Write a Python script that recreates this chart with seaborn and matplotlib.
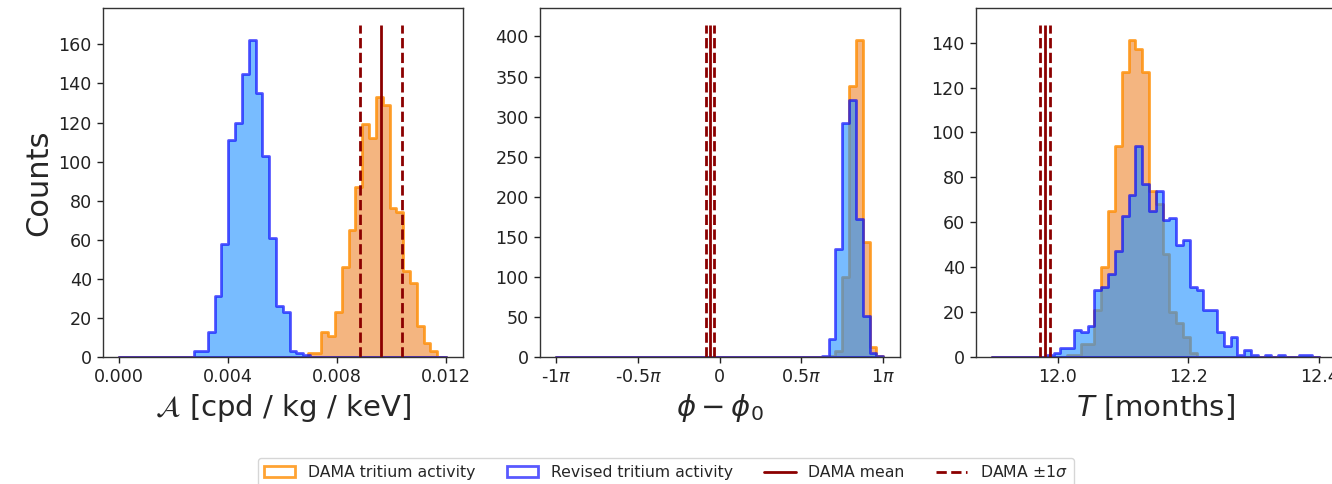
import numpy as np
import pandas as pd
import matplotlib
matplotlib.use("Agg")
import matplotlib.pyplot as plt
import seaborn as sns
from matplotlib.patches import Patch
from matplotlib.lines import Line2D

# ---------------------------------------------------------------------------
# Amplitude A [cpd/kg/keV]: counts per bin (bin width 0.00025)
amp_range = (0.0, 0.012)
amp_width = 0.00025
amp_dama_start = 0.00692
amp_dama_counts = [2, 2, 13, 11, 23, 46, 65, 87, 119, 112, 133, 129, 76, 74, 44, 38, 16, 7, 3]
amp_rev_start = 0.00275
amp_rev_counts = [3, 3, 13, 31, 58, 111, 120, 145, 162, 135, 103, 61, 26, 23, 3, 2, 1]
amp_dama_mean, amp_dama_sigma = 0.0096, 0.00077

# Phase phi - phi0 (units of pi): 48 bins over [-pi, pi]
phase_nbins = 48
phase_dama_first_bin = 40
phase_dama_counts = [1, 8, 100, 338, 395, 144, 13, 1]
phase_rev_first_bin = 39
phase_rev_counts = [1, 22, 135, 292, 321, 172, 51, 5, 1]
phase_dama_mean, phase_dama_sigma = -0.059, 0.0265

# Period T [months]: 48 bins over [11.9, 12.4]
period_range = (11.9, 12.4)
period_nbins = 48
period_dama_first_bin = 11
period_dama_counts = [1, 1, 6, 6, 21, 40, 65, 94, 127, 141, 137, 127, 74, 68, 46, 20, 15, 9, 2]
period_rev_first_bin = 8
period_rev_counts = [1, 2, 4, 4, 12, 11, 14, 30, 31, 37, 47, 63, 72, 94, 77, 65, 74, 61, 62,
                     50, 52, 31, 30, 21, 21, 11, 5, 9, 1, 3, 1, 0, 1, 0, 1, 0, 0, 1, 1]
period_dama_mean, period_dama_sigma = 11.98, 0.0075

phase_ticks = [-1.0, -0.5, 0.0, 0.5, 1.0]
phase_ticklabels = [r"-1$\pi$", r"-0.5$\pi$", "0", r"0.5$\pi$", r"1$\pi$"]

legend_labels = ["DAMA tritium activity", "Revised tritium activity", "DAMA mean", r"DAMA $\pm 1\sigma$"]
# ---------------------------------------------------------------------------

sns.set_style("ticks")
plt.rcParams.update({
    "font.family": ["DejaVu Sans"],
    "xtick.labelsize": 12.6,
    "ytick.labelsize": 12.6,
    "axes.edgecolor": "#333333",
    "axes.linewidth": 1.0,
    "xtick.color": "#222222",
    "ytick.color": "#222222",
    "mathtext.fontset": "dejavusans",
})

DAMA_FACE = (237 / 255, 133 / 255, 43 / 255, 0.6)
DAMA_EDGE = (1.0, 140 / 255, 0.0, 0.8)
REV_FACE = (30 / 255, 144 / 255, 1.0, 0.6)
REV_EDGE = (0.0, 0.0, 1.0, 0.65)
LINE_COLOR = "darkred"


def offset_edges(lo, hi, start, width, n):
    inner = start + width * np.arange(n + 1)
    return np.concatenate([[lo], inner, [hi]])


def padded(counts):
    return np.concatenate([[0], counts, [0]]).astype(float)


def grid_counts(nbins, first, counts):
    full = np.zeros(nbins)
    full[first:first + len(counts)] = counts
    return full


def draw_hist(ax, edges, counts, face, edge):
    edges = np.asarray(edges, dtype=float)
    table = pd.DataFrame({
        "value": 0.5 * (edges[:-1] + edges[1:]),
        "count": np.asarray(counts, dtype=float),
    })
    sns.histplot(data=table, x="value", weights="count", bins=[float(e) for e in edges],
                 element="step", fill=True, facecolor=face, edgecolor=edge,
                 linewidth=2, ax=ax)


def draw_dama(ax, mean, sigma, top):
    ax.vlines([mean], 0, top, colors=LINE_COLOR, linewidth=2, linestyles="solid")
    ax.vlines([mean - sigma, mean + sigma], 0, top, colors=LINE_COLOR, linewidth=2,
              linestyles="dashed")


W, H = 1332, 484
fig = plt.figure(figsize=(W / 100, H / 100), dpi=100)
bottom = (H - 357) / H
height = 349 / H
width = 359.5 / W
ax1 = fig.add_axes([103 / W, bottom, width, height])
ax2 = fig.add_axes([540 / W, bottom, width, height])
ax3 = fig.add_axes([976 / W, bottom, width, height])

# Amplitude panel
e_dama = offset_edges(*amp_range, amp_dama_start, amp_width, len(amp_dama_counts))
e_rev = offset_edges(*amp_range, amp_rev_start, amp_width, len(amp_rev_counts))
draw_hist(ax1, e_dama, padded(amp_dama_counts), DAMA_FACE, DAMA_EDGE)
draw_hist(ax1, e_rev, padded(amp_rev_counts), REV_FACE, REV_EDGE)
peak1 = max(max(amp_dama_counts), max(amp_rev_counts))
draw_dama(ax1, amp_dama_mean, amp_dama_sigma, 1.05 * peak1)
ax1.set_xticks([0.0, 0.004, 0.008, 0.012])
ax1.set_xticklabels(["0.000", "0.004", "0.008", "0.012"])
ax1.set_xlabel(r"$\mathcal{A}$ [cpd / kg / keV]", fontsize=21)
ax1.set_ylabel("Counts", fontsize=22)

# Phase panel (radians, labelled in units of pi)
pe = np.linspace(-np.pi, np.pi, phase_nbins + 1)
draw_hist(ax2, pe, grid_counts(phase_nbins, phase_dama_first_bin, phase_dama_counts),
          DAMA_FACE, DAMA_EDGE)
draw_hist(ax2, pe, grid_counts(phase_nbins, phase_rev_first_bin, phase_rev_counts),
          REV_FACE, REV_EDGE)
peak2 = max(max(phase_dama_counts), max(phase_rev_counts))
draw_dama(ax2, phase_dama_mean * np.pi, phase_dama_sigma * np.pi, 1.05 * peak2)
ax2.set_xticks(np.array(phase_ticks) * np.pi)
ax2.set_xticklabels(phase_ticklabels)
ax2.set_xlabel(r"$\phi - \phi_0$", fontsize=21)
ax2.set_ylabel("")

# Period panel
te = np.linspace(period_range[0], period_range[1], period_nbins + 1)
draw_hist(ax3, te, grid_counts(period_nbins, period_dama_first_bin, period_dama_counts),
          DAMA_FACE, DAMA_EDGE)
draw_hist(ax3, te, grid_counts(period_nbins, period_rev_first_bin, period_rev_counts),
          REV_FACE, REV_EDGE)
peak3 = max(max(period_dama_counts), max(period_rev_counts))
draw_dama(ax3, period_dama_mean, period_dama_sigma, 1.05 * peak3)
ax3.set_xticks([12.0, 12.2, 12.4])
ax3.set_xlabel(r"$T$ [months]", fontsize=21)
ax3.set_ylabel("")

for ax in (ax1, ax2, ax3):
    ax.tick_params(length=4.5, width=1)
    ax.margins(x=0.05, y=0.05)
    ax.set_ylim(bottom=0)

handles = [
    Patch(facecolor="none", edgecolor=DAMA_EDGE, linewidth=2),
    Patch(facecolor="none", edgecolor=REV_EDGE, linewidth=2),
    Line2D([], [], color=LINE_COLOR, linewidth=2, linestyle="-"),
    Line2D([], [], color=LINE_COLOR, linewidth=2, linestyle="--"),
]
fig.legend(handles, legend_labels, loc="upper center", bbox_to_anchor=(0.5, 1 - 458 / H),
           ncol=4, fontsize=11.3, frameon=True, borderaxespad=0.0)

fig.savefig("out.png", dpi=100)
